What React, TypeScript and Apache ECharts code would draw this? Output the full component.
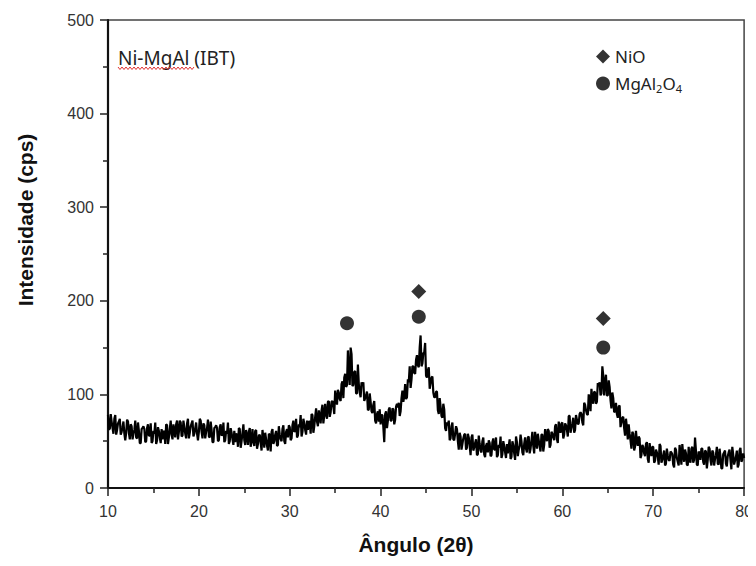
import React, { useEffect, useRef } from "react";
import * as echarts from "echarts";

// 2θ sampling of the diffractogram: samples A at 10.0, 10.2, ... and B at 10.1, 10.3, ...
const X_START = 10;
const X_STEP = 0.2;

// Intensity (cps) at 10.0, 10.2, ... 80.0 (one row per 2°)
const INTENSITY_A: number[] = [
  78, 63, 71, 58, 78, 62, 71, 57, 65, 58,
  59, 71, 52, 66, 58, 72, 53, 61, 48, 64,
  63, 50, 68, 56, 48, 61, 70, 51, 61, 48,
  52, 60, 68, 47, 63, 57, 68, 54, 72, 60,
  70, 56, 65, 53, 74, 59, 69, 55, 64, 58,
  60, 72, 53, 67, 60, 73, 54, 62, 49, 65,
  64, 51, 68, 57, 49, 61, 70, 50, 59, 46,
  49, 57, 64, 43, 59, 51, 62, 46, 64, 51,
  49, 61, 42, 56, 48, 62, 43, 52, 40, 57,
  60, 47, 57, 45, 66, 52, 63, 50, 60, 54,
  65, 53, 72, 61, 54, 68, 78, 60, 69, 57,
  62, 71, 79, 59, 76, 71, 83, 69, 89, 78,
  78, 92, 76, 92, 87, 104, 89, 102, 93, 114,
  118, 108, 147, 110, 143, 110, 125, 101, 111, 97,
  110, 93, 99, 83, 101, 82, 89, 72, 79, 71,
  68, 78, 49, 82, 72, 86, 72, 84, 73, 90,
  91, 82, 104, 98, 95, 116, 130, 116, 130, 122,
  142, 129, 163, 133, 145, 120, 126, 106, 118, 102,
  97, 103, 79, 87, 75, 84, 61, 67, 51, 66,
  52, 58, 63, 41, 55, 47, 57, 41, 58, 45,
  54, 40, 48, 35, 56, 40, 50, 36, 45, 38,
  48, 35, 53, 41, 33, 46, 55, 36, 45, 32,
  37, 52, 33, 46, 30, 49, 41, 57, 38, 47,
  42, 54, 37, 51, 45, 60, 42, 51, 39, 57,
  46, 55, 63, 43, 60, 54, 66, 52, 71, 59,
  70, 57, 67, 55, 77, 64, 75, 62, 73, 69,
  81, 70, 91, 83, 78, 94, 106, 90, 102, 92,
  109, 99, 130, 99, 121, 99, 108, 85, 96, 82,
  79, 87, 65, 75, 64, 74, 52, 58, 42, 58,
  44, 50, 55, 32, 46, 37, 47, 31, 48, 34,
  44, 29, 38, 25, 45, 30, 40, 26, 35, 29,
  38, 25, 43, 32, 24, 37, 47, 28, 37, 24,
  30, 42, 27, 54, 25, 39, 30, 42, 25, 39,
  30, 42, 24, 38, 31, 44, 25, 34, 21, 38,
  26, 34, 41, 20, 36, 29, 40, 25, 43, 30,
  32,
];

// Intensity (cps) at 10.1, 10.3, ... 79.9 (one row per 2°)
const INTENSITY_B: number[] = [
  63, 79, 64, 74, 57, 69, 74, 60, 71, 51,
  73, 59, 68, 52, 62, 54, 70, 48, 63, 66,
  49, 64, 56, 69, 50, 58, 47, 65, 54, 63,
  61, 47, 67, 54, 72, 52, 62, 68, 52, 72,
  55, 72, 58, 69, 53, 66, 72, 58, 70, 51,
  74, 60, 69, 53, 64, 55, 71, 49, 64, 67,
  50, 65, 56, 70, 51, 58, 47, 64, 52, 61,
  58, 44, 63, 50, 68, 46, 56, 60, 44, 63,
  45, 62, 47, 57, 40, 53, 59, 45, 58, 39,
  63, 50, 61, 46, 57, 50, 67, 47, 63, 67,
  51, 67, 60, 74, 56, 65, 55, 74, 62, 72,
  71, 58, 78, 66, 85, 66, 77, 83, 69, 90,
  74, 93, 81, 93, 79, 95, 105, 95, 111, 96,
  122, 110, 124, 150, 109, 124, 101, 132, 102, 113,
  113, 96, 103, 84, 92, 80, 93, 69, 82, 84,
  78, 65, 79, 64, 84, 72, 85, 68, 87, 86,
  77, 96, 92, 111, 97, 113, 107, 130, 123, 137,
  131, 150, 130, 144, 155, 118, 129, 112, 119, 97,
  103, 83, 96, 77, 90, 64, 70, 72, 53, 70,
  51, 66, 50, 59, 41, 53, 58, 43, 54, 35,
  57, 43, 52, 36, 47, 38, 54, 33, 48, 51,
  34, 49, 41, 54, 35, 43, 32, 50, 38, 47,
  45, 31, 50, 37, 55, 34, 45, 50, 35, 54,
  38, 55, 42, 60, 37, 51, 58, 44, 57, 39,
  63, 50, 61, 46, 58, 51, 68, 48, 64, 69,
  53, 69, 62, 77, 59, 69, 59, 78, 68, 79,
  79, 67, 89, 79, 100, 82, 95, 103, 90, 112,
  113, 101, 120, 114, 99, 115, 94, 102, 81, 91,
  75, 88, 70, 76, 56, 65, 68, 51, 60, 40,
  61, 45, 53, 35, 44, 34, 49, 27, 41, 44,
  27, 41, 33, 47, 27, 35, 24, 42, 30, 39,
  36, 22, 41, 28, 46, 25, 36, 41, 25, 44,
  27, 44, 30, 40, 24, 37, 42, 28, 40, 21,
  44, 30, 40, 24, 35, 26, 42, 21, 36, 40,
  23, 38, 30, 44, 25, 33, 22, 40, 28, 37,
];

// Phase markers [2θ, height]
const NIO_MARKS: number[][] = [
  [44.2, 210],
  [64.5, 181],
];
const MGAL_MARKS: number[][] = [
  [36.3, 176],
  [44.2, 183],
  [64.5, 150],
];

const X_TICKS = { min: 10, max: 80, interval: 10 };
const Y_TICKS = { min: 0, max: 500, interval: 100 };

export default function App() {
  const ref = useRef<HTMLDivElement>(null);

  useEffect(() => {
    if (!ref.current) return;
    const chart = echarts.init(ref.current, undefined, { renderer: "svg" });

    const lineData: number[][] = [];
    INTENSITY_A.forEach((v, i) => {
      lineData.push([+(X_START + i * X_STEP).toFixed(2), v]);
      if (i < INTENSITY_B.length) {
        lineData.push([+(X_START + X_STEP / 2 + i * X_STEP).toFixed(2), INTENSITY_B[i]]);
      }
    });

    // red spell-check wave under "Ni-MgAl"
    const wave: number[][] = [];
    for (let x = 118, k = 0; x <= 194; x += 2, k++) {
      wave.push([x, k % 2 === 0 ? 67 : 69.5]);
    }

    const font = 'Arial, "Liberation Sans", sans-serif';
    const noto = '"Noto Sans", sans-serif';

    chart.setOption({
      animation: false,
      backgroundColor: "#ffffff",
      grid: {
        left: 108,
        right: 10,
        top: 20,
        bottom: 78,
        containLabel: false,
        show: true,
        borderColor: "#444444",
        borderWidth: 1.5,
        backgroundColor: "transparent",
      },
      legend: {
        orient: "vertical",
        left: 596,
        top: 46,
        padding: 0,
        itemWidth: 14,
        itemHeight: 14,
        itemGap: 6,
        data: ["NiO", "MgAl2O4"],
        textStyle: {
          fontFamily: noto,
          fontSize: 17,
          color: "#222",
          lineHeight: 21,
          rich: {
            n: { fontSize: 17, lineHeight: 21, color: "#222", fontFamily: noto },
            s: { fontSize: 11, lineHeight: 10, verticalAlign: "bottom", color: "#222", fontFamily: noto },
          },
        },
        formatter: (name: string) =>
          name === "MgAl2O4" ? "{n|MgAl}{s|2}{n|O}{s|4}" : "{n|" + name + "}",
      },
      xAxis: {
        type: "value",
        min: X_TICKS.min,
        max: X_TICKS.max,
        interval: X_TICKS.interval,
        axisLine: { show: true, lineStyle: { color: "#111111", width: 2 } },
        axisTick: { show: true, inside: false, length: 8, lineStyle: { color: "#222", width: 1.5 } },
        minorTick: { show: true, splitNumber: 2, length: 5, lineStyle: { color: "#222", width: 1.5 } },
        axisLabel: { fontSize: 16, color: "#333", margin: 15, fontFamily: font },
        splitLine: { show: false },
      },
      yAxis: {
        type: "value",
        min: Y_TICKS.min,
        max: Y_TICKS.max,
        interval: Y_TICKS.interval,
        axisLine: { show: true, lineStyle: { color: "#111111", width: 2.2 } },
        axisTick: { show: true, inside: false, length: 8, lineStyle: { color: "#222", width: 1.5 } },
        minorTick: { show: true, splitNumber: 2, length: 5, lineStyle: { color: "#222", width: 1.5 } },
        axisLabel: { fontSize: 16, color: "#333", margin: 14, fontFamily: font },
        splitLine: { show: false },
      },
      series: [
        {
          name: "Ni-MgAl (IBT)",
          type: "line",
          data: lineData,
          showSymbol: false,
          symbol: "none",
          lineStyle: { color: "#000", width: 2.2 },
          z: 2,
        },
        {
          name: "NiO",
          type: "scatter",
          data: NIO_MARKS,
          symbol: "diamond",
          symbolSize: [15, 15],
          itemStyle: { color: "#000" },
          z: 3,
        },
        {
          name: "MgAl2O4",
          type: "scatter",
          data: MGAL_MARKS,
          symbol: "circle",
          symbolSize: 14,
          itemStyle: { color: "#000" },
          z: 3,
        },
      ],
      graphic: [
        {
          type: "text",
          x: 118,
          y: 58,
          style: {
            text: "Ni-MgAl (IBT)",
            fontSize: 19,
            fontFamily: noto,
            fill: "#222",
            verticalAlign: "middle",
            align: "left",
          },
        },
        {
          type: "polyline",
          shape: { points: wave },
          style: { stroke: "#e03030", lineWidth: 1, fill: null },
          silent: true,
        },
        {
          type: "text",
          x: 416,
          y: 544,
          style: {
            text: "Ângulo (2θ)",
            fontSize: 21,
            fontWeight: "bold",
            fontFamily: font,
            fill: "#111",
            align: "center",
            verticalAlign: "middle",
          },
        },
        {
          type: "text",
          x: 25,
          y: 220,
          rotation: Math.PI / 2,
          style: {
            text: "Intensidade (cps)",
            fontSize: 21,
            fontWeight: "bold",
            fontFamily: font,
            fill: "#111",
            align: "center",
            verticalAlign: "middle",
          },
        },
      ],
    });

    return () => chart.dispose();
  }, []);

  return <div ref={ref} style={{ width: 756, height: 566, margin: -8 }} />;
}
